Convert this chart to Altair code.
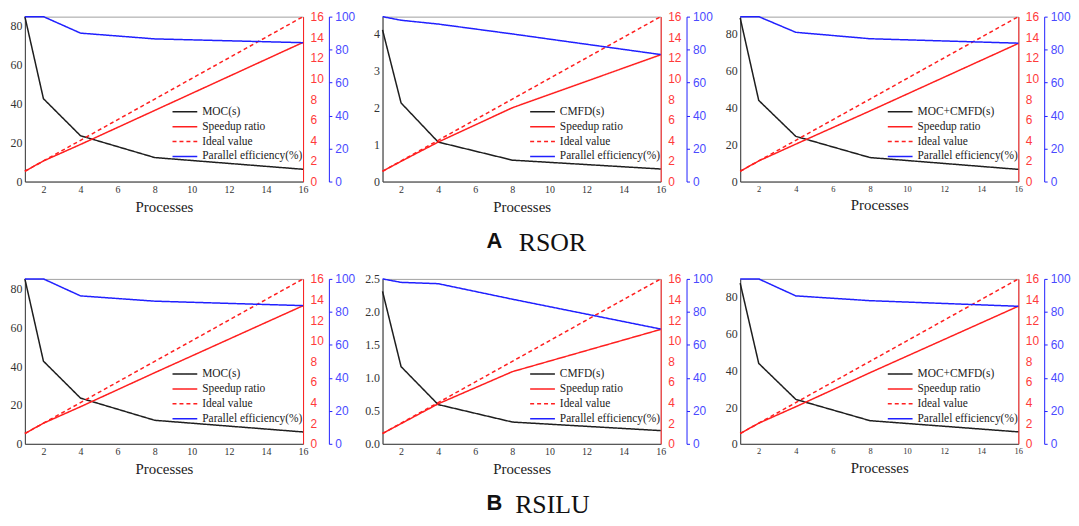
import altair as alt
import pandas as pd

# ---------------- data ----------------
procs = [1, 2, 4, 8, 16]
ideal_speedup = [1, 2, 4, 8, 16]
x_ticks = [2, 4, 6, 8, 10, 12, 14, 16]
speed_ticks = [0, 2, 4, 6, 8, 10, 12, 14, 16]
eff_ticks = [0, 20, 40, 60, 80, 100]

# A  RSOR
rsor_moc_time = [84.6, 42.5, 23.5, 12.3, 6.3]
rsor_moc_speedup = [1.0, 2.0, 3.6, 6.9, 13.5]
rsor_moc_eff = [100, 100, 90.0, 86.5, 84.2]

rsor_cmfd_time = [4.11, 2.13, 1.07, 0.58, 0.34]
rsor_cmfd_speedup = [1.0, 1.96, 3.83, 7.16, 12.3]
rsor_cmfd_eff = [100, 97.8, 95.5, 89.5, 77.0]

rsor_all_time = [88.7, 44.0, 24.5, 13.0, 6.6]
rsor_all_speedup = [1.0, 2.0, 3.63, 6.85, 13.4]
rsor_all_eff = [100, 100, 90.5, 86.6, 83.9]

# B  RSILU
rsilu_moc_time = [84.8, 42.5, 23.5, 12.1, 6.1]
rsilu_moc_speedup = [1.0, 2.0, 3.6, 6.9, 13.4]
rsilu_moc_eff = [100, 100, 89.7, 86.5, 83.8]

rsilu_cmfd_time = [2.31, 1.17, 0.595, 0.33, 0.20]
rsilu_cmfd_speedup = [1.0, 1.96, 3.88, 7.0, 11.1]
rsilu_cmfd_eff = [100, 97.9, 97.1, 87.7, 69.6]

rsilu_all_time = [87.5, 43.8, 24.2, 12.6, 6.5]
rsilu_all_speedup = [1.0, 2.0, 3.6, 6.9, 13.35]
rsilu_all_eff = [100, 100, 89.7, 86.8, 83.4]

# ---------------- styling ----------------
SERIF = "Liberation Serif"
SANS = "Liberation Sans"
SPEED = "Speedup ratio"
IDEAL = "Ideal value"
EFF = "Parallel efficiency(%)"
BLACK = "#1e1e1e"
RED = "#ff1f1f"
BLUE = "#2020ff"
W, H = 280, 166


def panel(time_label, times, speedup, eff, t_max, t_ticks, t_fmt, x_lab_size, title=None):
    rows = []
    for p, v in zip(procs, times):
        rows.append({"p": p, "series": time_label, "v": v})
    for p, v in zip(procs, speedup):
        rows.append({"p": p, "series": SPEED, "v": v})
    for p, v in zip(procs, ideal_speedup):
        rows.append({"p": p, "series": IDEAL, "v": v})
    for p, v in zip(procs, eff):
        rows.append({"p": p, "series": EFF, "v": v})
    df = pd.DataFrame(rows)
    domain = [time_label, SPEED, IDEAL, EFF]

    leg = alt.Legend(
        title=None, orient="none", legendX=147, legendY=90, direction="vertical",
        labelFont=SERIF, labelFontSize=11.5, labelColor="#222",
        symbolType="M-1,0H5", symbolSize=69, symbolStrokeWidth=1.5,
        labelOffset=20, rowPadding=2, padding=0,
    )
    color = alt.Color("series:N", scale=alt.Scale(domain=domain, range=[BLACK, RED, RED, BLUE]), legend=leg)
    dash = alt.StrokeDash("series:N", scale=alt.Scale(domain=domain, range=[[1, 0], [1, 0], [4, 3], [1, 0]]), legend=leg)

    xscale = alt.Scale(domain=[1, 16], nice=False, zero=False)
    x_axis = alt.Axis(
        values=x_ticks, title="Processes", grid=False, ticks=False, tickSize=0,
        labelFont=SERIF, labelFontSize=x_lab_size, labelColor="#333", labelPadding=3,
        titleFont=SERIF, titleFontSize=15, titleFontWeight="normal", titleColor="#222",
        titlePadding=5, domainColor="#444", labelFlush=False,
    )
    x_enc = alt.X("p:Q", scale=xscale, axis=x_axis)
    base = alt.Chart(df)

    black = base.transform_filter(alt.datum.series == time_label).mark_line(strokeWidth=1.5).encode(
        x=x_enc,
        y=alt.Y("v:Q", scale=alt.Scale(domain=[0, t_max], nice=False, zero=True),
                axis=alt.Axis(orient="left", values=t_ticks, format=t_fmt, title=None, grid=False,
                              ticks=False, tickSize=0, labelPadding=3, labelFont=SERIF,
                              labelFontSize=12, labelColor="#333", domainColor="#444")),
        color=color, strokeDash=dash,
    )
    red = base.transform_filter(alt.FieldOneOfPredicate(field="series", oneOf=[SPEED, IDEAL])).mark_line(strokeWidth=1.5).encode(
        x=x_enc,
        y=alt.Y("v:Q", scale=alt.Scale(domain=[0, 16], nice=False),
                axis=alt.Axis(orient="right", values=speed_ticks, title=None, grid=False,
                              ticks=False, tickSize=0, labelPadding=7, labelFont=SANS,
                              labelFontSize=12, labelColor="#ff3a3a", domainColor=RED)),
        color=color, strokeDash=dash,
    )
    blue = base.transform_filter(alt.datum.series == EFF).mark_line(strokeWidth=1.5).encode(
        x=x_enc,
        y=alt.Y("v:Q", scale=alt.Scale(domain=[0, 100], nice=False),
                axis=alt.Axis(orient="right", offset=26, values=eff_ticks, title=None, grid=False,
                              ticks=True, tickSize=3, tickColor=BLUE, labelPadding=3, labelFont=SANS,
                              labelFontSize=12, labelColor="#4a4aff", domainColor=BLUE)),
        color=color, strokeDash=dash,
    )
    layer = alt.layer(black, red, blue).resolve_scale(y="independent").properties(width=W, height=H)
    if title is not None:
        layer = layer.properties(title=alt.TitleParams(
            text=title, orient="bottom", font=SERIF, fontSize=26, fontWeight="normal",
            color="#111", anchor="middle", frame="group", dx=31, offset=16))
    return layer


def row(panels, letter):
    return alt.hconcat(
        *panels, spacing=80, bounds="flush",
        title=alt.TitleParams(text=letter, orient="bottom", font=SANS, fontSize=22, fontWeight="bold",
                              color="#111", anchor="middle", dx=-46, dy=-26, offset=0),
    ).resolve_scale(color="independent", strokeDash="independent")


rowA = row([
    panel("MOC(s)", rsor_moc_time, rsor_moc_speedup, rsor_moc_eff, 84.6, [0, 20, 40, 60, 80], "d", 10),
    panel("CMFD(s)", rsor_cmfd_time, rsor_cmfd_speedup, rsor_cmfd_eff, 4.47, [0, 1, 2, 3, 4], "d", 10, "RSOR"),
    panel("MOC+CMFD(s)", rsor_all_time, rsor_all_speedup, rsor_all_eff, 89.4, [0, 20, 40, 60, 80], "d", 8.5),
], "A")

rowB = row([
    panel("MOC(s)", rsilu_moc_time, rsilu_moc_speedup, rsilu_moc_eff, 84.8, [0, 20, 40, 60, 80], "d", 10),
    panel("CMFD(s)", rsilu_cmfd_time, rsilu_cmfd_speedup, rsilu_cmfd_eff, 2.5, [0, 0.5, 1.0, 1.5, 2.0, 2.5], ".1f", 10, "RSILU"),
    panel("MOC+CMFD(s)", rsilu_all_time, rsilu_all_speedup, rsilu_all_eff, 89.8, [0, 20, 40, 60, 80], "d", 8.5),
], "B")

chart = alt.vconcat(rowA, rowB, spacing=15).resolve_scale(
    color="independent", strokeDash="independent"
).properties(
    padding={"left": 1, "top": 0, "right": 0, "bottom": 0},
    background="white",
).configure_view(stroke="#a0a0a0", strokeWidth=1)

chart.save("out.html", embed_options={"renderer": "svg", "actions": False})
